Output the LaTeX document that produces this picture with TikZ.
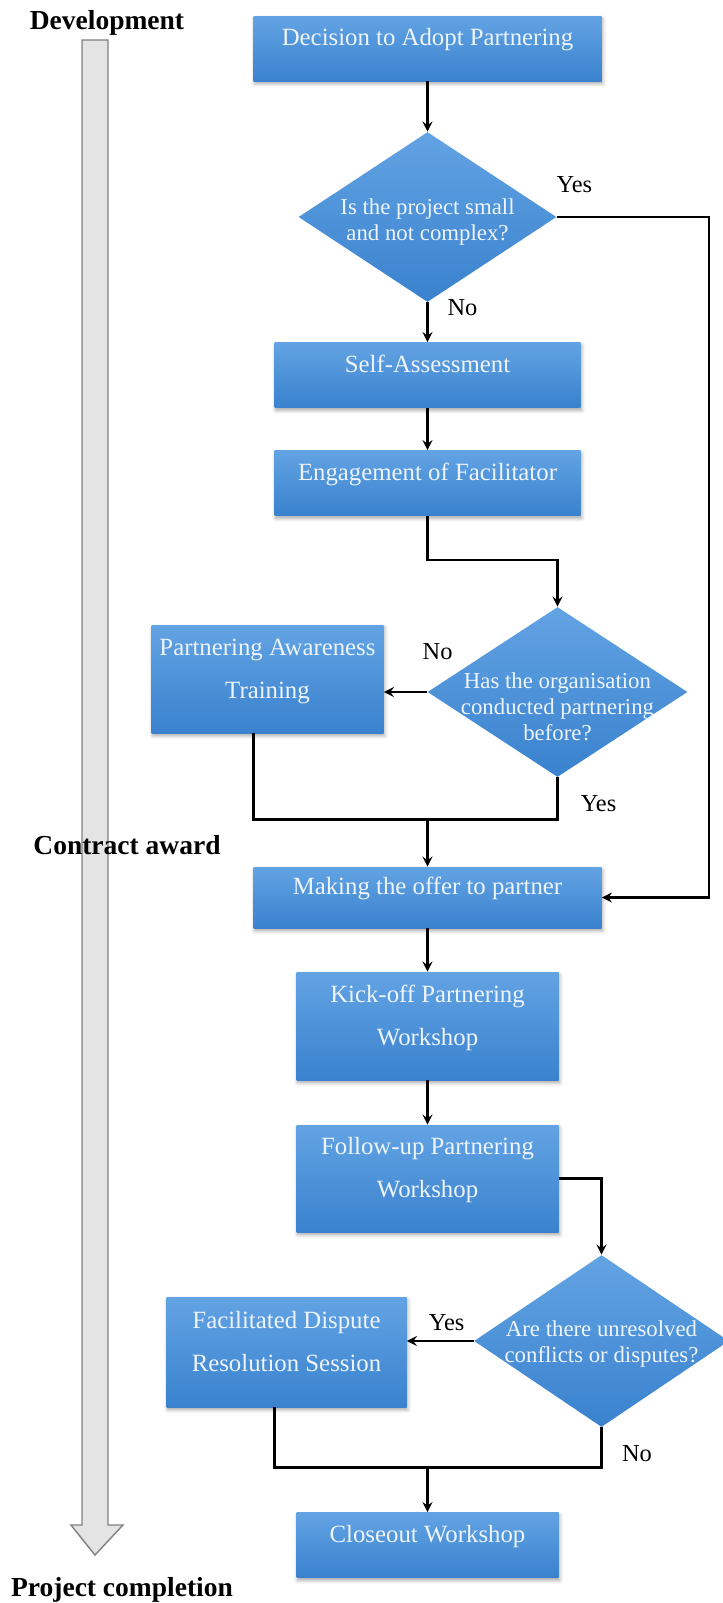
\documentclass[tikz,border=0pt]{standalone}
\usepackage{fontspec}
\setmainfont{Liberation Serif}
\usetikzlibrary{shapes, arrows, shadows.blur}
\definecolor{boxtop}{HTML}{62A3E3}
\definecolor{boxbot}{HTML}{3A82CE}
\definecolor{boxtext}{HTML}{EEF4FC}
\definecolor{bargray}{HTML}{E4E4E4}
\definecolor{baredge}{HTML}{7F7F7F}
\newcommand{\boxlines}[2][2.5pt]{\makebox[0pt]{\raisebox{#1}[0pt][0pt]{\begin{tabular}{@{}c@{}}#2\end{tabular}}}}
\tikzstyle{process} = [rectangle, minimum width=131pt, minimum height=32.5pt, inner sep=0pt, top color=boxtop, bottom color=boxbot, text=boxtext, font=\fontsize{12.4}{21.5}\selectfont, blur shadow={shadow xshift=0.6pt, shadow yshift=-1.4pt, shadow blur steps=4, shadow opacity=35}]
\tikzstyle{decision} = [diamond, minimum width=129pt, minimum height=85pt, inner sep=0pt, top color=boxtop, bottom color=boxbot, text=boxtext, font=\fontsize{11.4}{13}\selectfont]
\tikzstyle{answer} = [font=\fontsize{12.2}{14}\selectfont, inner sep=0pt]
\tikzstyle{stage} = [font=\bfseries\fontsize{13.75}{16}\selectfont, inner sep=0pt]
\tikzstyle{arrow} = [line width=1.2pt,->,>=stealth]
\tikzstyle{link} = [line width=1.2pt]

\begin{document}
\begin{tikzpicture}[node distance=50pt]
\useasboundingbox (0pt,0pt) rectangle (361.5pt,-801.5pt);

%Time line
\draw [fill=bargray, draw=baredge, line width=0.7pt] (41pt,-20pt) -- (54pt,-20pt) -- (54pt,-762.5pt) -- (61.5pt,-762.5pt) -- (47.5pt,-777.5pt) -- (35.5pt,-762.5pt) -- (41pt,-762.5pt) -- cycle;
\node (devel) [stage] at (53.5pt,-11.5pt) {Development};
\node (award) [stage] at (63.5pt,-422.5pt) {Contract award};
\node (finish) [stage] at (61pt,-795pt) {Project completion};

%Before contract
\node (start) [process, minimum width=174pt] at (213.75pt,-24.25pt) {\boxlines[3pt]{Decision to Adopt Partnering}};
\node (dec1) [decision, below of=start, yshift=-34.25pt] {\boxlines[-5.5pt]{Is the project small\\and not complex?}};
\node (sa) [process, minimum width=153pt, below of=dec1, yshift=-29pt] {\boxlines{Self-Assessment}};
\node (engage) [process, minimum width=153pt, below of=sa, yshift=-4pt] {\boxlines{Engagement of Facilitator}};
\node (dec2) [decision, minimum width=130pt, below of=engage, xshift=65pt, yshift=-54.5pt] {\boxlines[-11.5pt]{Has the organisation\\conducted partnering\\before?}};
\node (pat) [process, minimum width=116pt, minimum height=54pt, left of=dec2, xshift=-95pt, yshift=6.5pt] {\boxlines{Partnering Awareness\\Training}};

%After contract
\node (offer) [process, minimum width=174pt, minimum height=30.5pt, below of=engage, yshift=-157.25pt] {\boxlines[3pt]{Making the offer to partner}};
\node (kick) [process, minimum height=54pt, below of=offer, yshift=-14.25pt] {\boxlines{Kick-off Partnering\\Workshop}};
\node (follow) [process, minimum height=53.5pt, below of=kick, yshift=-26.25pt] {\boxlines{Follow-up Partnering\\Workshop}};
\node (dec3) [decision, minimum width=127.5pt, minimum height=86pt, below of=follow, xshift=87pt, yshift=-31.25pt] {\boxlines[-4.2pt]{Are there unresolved\\conflicts or disputes?}};
\node (fdr) [process, minimum width=120pt, minimum height=55pt, left of=dec3, xshift=-107.5pt, yshift=-5.5pt] {\boxlines{Facilitated Dispute\\Resolution Session}};
\node (close) [process, below of=follow, yshift=-133.25pt] {\boxlines{Closeout Workshop}};

%Answers
\node (yes1) [answer, xshift=8.75pt, yshift=16pt] at (dec1.east) {Yes};
\node (no1) [answer, xshift=17.5pt, yshift=-2.5pt] at (dec1.south) {No};
\node (no2) [answer, xshift=5.25pt, yshift=20pt] at (dec2.west) {No};
\node (yes2) [answer, xshift=20.5pt, yshift=-13pt] at (dec2.south) {Yes};
\node (yes3) [answer, xshift=-13.5pt, yshift=9pt] at (dec3.west) {Yes};
\node (no3) [answer, xshift=17.75pt, yshift=-13pt] at (dec3.south) {No};

%Connectors
\draw [arrow] (start.south) -- (dec1.north);
\draw [arrow] (dec1.south) -- (sa.north);
\draw [arrow] (sa.south) -- (engage.north);
\draw [arrow] (engage.south) -- ++(0,-22pt) -| (dec2.north);
\draw [arrow] (dec2.west) -- (dec2.west -| pat.east);
\coordinate (merge1) at ([yshift=23.5pt]offer.north);
\draw [link] ([xshift=-7pt]pat.south) |- (merge1) -| (dec2.south);
\draw [arrow] (merge1) -- (offer.north);
\draw [arrow] (dec1.east) -- ++(76pt,0) |- (offer.east);
\draw [arrow] (offer.south) -- (kick.north);
\draw [arrow] (kick.south) -- (follow.north);
\draw [arrow] (follow.east) -| (dec3.north);
\draw [arrow] (dec3.west) -- (dec3.west -| fdr.east);
\coordinate (merge2) at ([yshift=22.25pt]close.north);
\draw [link] ([xshift=-6pt]fdr.south) |- (merge2) -| (dec3.south);
\draw [arrow] (merge2) -- (close.north);
\end{tikzpicture}
\end{document}
